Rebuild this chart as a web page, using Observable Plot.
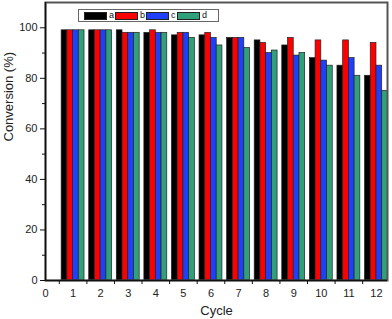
<!DOCTYPE html>
<html>
<head>
<meta charset="utf-8">
<script src="https://cdn.jsdelivr.net/npm/d3@7"></script>
<script src="https://cdn.jsdelivr.net/npm/@observablehq/plot@0.6"></script>
<style>
  html, body { margin: 0; padding: 0; background: #fff; }
  #wrap { position: relative; width: 392px; height: 319px; font-family: "Liberation Sans", Arial, sans-serif; }
  #legend { position: absolute; left: 78px; top: 9px; width: 134px; height: 11px; border: 1.5px solid #666; background: #fff; padding-left: 5px; box-sizing: content-box; white-space: nowrap; }
  .item { display: inline-flex; align-items: center; width: 31px; height: 11px; vertical-align: top; }
  .sw { flex: 0 0 auto; width: 21px; height: 6px; border: 0.8px solid #222; }
  .lab { flex: 0 0 auto; font-size: 9px; margin-left: 2px; color: #111; line-height: 9px; }
</style>
</head>
<body>
<div id="wrap"><div id="legend"></div></div>
<script>
const cycles = [1, 2, 3, 4, 5, 6, 7, 8, 9, 10, 11, 12];
const seriesNames = ["a", "b", "c", "d"];
const seriesColors = ["#000000", "#ff0000", "#1f3ffa", "#30a07a"];
const valuesA = [99, 99, 99, 98, 97, 97, 96, 95, 93, 88, 85, 81];
const valuesB = [99, 99, 98, 99, 98, 98, 96, 94, 96, 95, 95, 94];
const valuesC = [99, 99, 98, 98, 98, 96, 96, 90, 89, 87, 88, 85];
const valuesD = [99, 99, 98, 98, 96, 93, 92, 91, 90, 85, 81, 75];
const xTickLabels = [0, 1, 2, 3, 4, 5, 6, 7, 8, 9, 10, 11, 12];
const yTickLabels = [0, 20, 40, 60, 80, 100];
const yMinorTicks = [10, 30, 50, 70, 90];

const allValues = [valuesA, valuesB, valuesC, valuesD];
const data = [];
seriesNames.forEach((s, si) => {
  cycles.forEach((c, ci) => data.push({cycle: c, series: s, si, value: allValues[si][ci]}));
});

const groupW = 0.83, barW = groupW / 4;
const xBoundaries = cycles.map(c => c - 0.5);

const chart = Plot.plot({
  width: 392, height: 319,
  marginLeft: 45, marginRight: 5, marginTop: 2, marginBottom: 39,
  style: {fontFamily: "'Liberation Sans', Arial, sans-serif", fontSize: "11px", color: "#222"},
  x: {domain: [0, 12.4], axis: null},
  y: {domain: [0, 110], axis: null},
  color: {domain: seriesNames, range: seriesColors},
  marks: [
    Plot.rectY(data, {
      x1: d => d.cycle - groupW / 2 + d.si * barW,
      x2: d => d.cycle - groupW / 2 + (d.si + 1) * barW,
      y1: 0, y2: "value",
      fill: "series", stroke: "#222", strokeWidth: 0.7
    }),
    Plot.frame({stroke: "#555", strokeWidth: 2}),
    Plot.ruleX([0], {stroke: "#111", strokeWidth: 1.5}),
    Plot.ruleY([0], {stroke: "#111", strokeWidth: 1.5}),
    Plot.axisX(xTickLabels, {tickSize: 0, tickPadding: 9, fontSize: 11, fill: "#222", label: null}),
    Plot.axisX(xBoundaries, {tickSize: 4, text: null, label: null, stroke: "#111"}),
    Plot.axisY(yTickLabels, {tickSize: 5, tickPadding: 3, fontSize: 11, fill: "#222", label: null, stroke: "#111"}),
    Plot.axisY(yMinorTicks, {tickSize: 3, text: null, label: null, stroke: "#111"}),
    Plot.text(["Cycle"], {frameAnchor: "bottom", dy: 34, fontSize: 13, fill: "#222"}),
    Plot.text(["Conversion (%)"], {frameAnchor: "left", dx: -37, rotate: -90, fontSize: 13, fill: "#222"})
  ]
});
document.getElementById("wrap").prepend(chart);
chart.style.position = "absolute"; chart.style.left = "0"; chart.style.top = "0";

const legend = document.getElementById("legend");
seriesNames.forEach((s, i) => {
  const it = document.createElement("div"); it.className = "item";
  const sw = document.createElement("div"); sw.className = "sw"; sw.style.background = seriesColors[i];
  const lb = document.createElement("span"); lb.className = "lab"; lb.textContent = s;
  it.append(sw, lb); legend.append(it);
});
</script>
</body>
</html>
